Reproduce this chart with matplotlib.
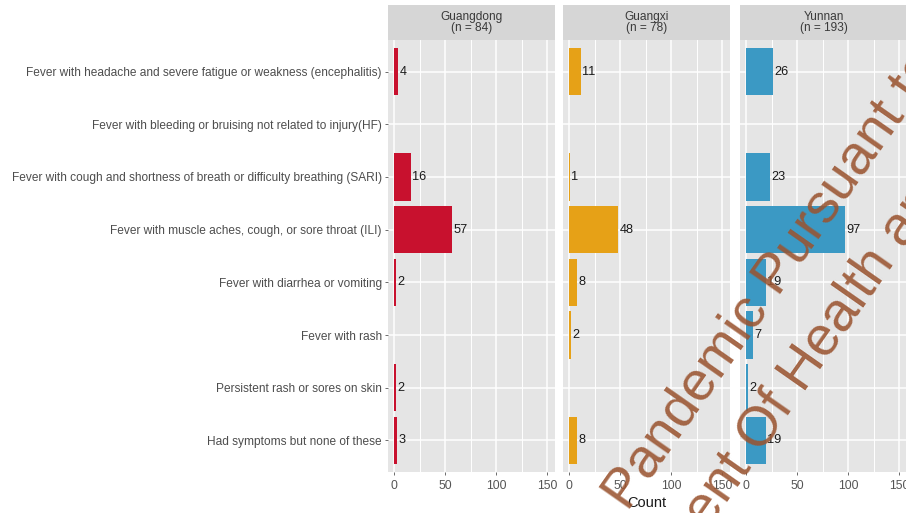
import matplotlib.pyplot as plt
import numpy as np

plt.rcParams['font.family'] = ['Liberation Sans', 'DejaVu Sans']

# symptom categories, top to bottom
symptoms = [
    "Fever with headache and severe fatigue or weakness (encephalitis)",
    "Fever with bleeding or bruising not related to injury(HF)",
    "Fever with cough and shortness of breath or difficulty breathing (SARI)",
    "Fever with muscle aches, cough, or sore throat (ILI)",
    "Fever with diarrhea or vomiting",
    "Fever with rash",
    "Persistent rash or sores on skin",
    "Had symptoms but none of these",
]

provinces = ["Guangdong", "Guangxi", "Yunnan"]
n_resp = [84, 78, 193]

guangdong = [4, 0, 16, 57, 2, 0, 2, 3]
guangxi = [11, 0, 1, 48, 8, 2, 0, 8]
yunnan = [26, 0, 23, 97, 19, 7, 2, 19]

colors = ["#C8112E", "#E6A117", "#3B99C4"]
x_ticks = [0, 50, 100, 150]

W, H = 906, 513
fig = plt.figure(figsize=(W / 100, H / 100), dpi=100)

panel_left = [388, 563, 740]
panel_w = 167
panel_top, panel_bot = 40, 472
strip_top = 5

counts = [guangdong, guangxi, yunnan]
ypos = np.arange(1, len(symptoms) + 1)

for i, (prov, n, vals, col) in enumerate(zip(provinces, n_resp, counts, colors)):
    ax = fig.add_axes([panel_left[i] / W, 1 - panel_bot / H,
                       panel_w / W, (panel_bot - panel_top) / H])
    ax.set_facecolor("#E5E5E5")
    ax.set_xlim(-6.2, 157.5)
    ax.set_ylim(len(symptoms) + 0.6, 0.4)
    ax.set_xticks(x_ticks)
    ax.set_xticks([25, 75, 125], minor=True)
    ax.set_yticks(ypos)
    ax.grid(True, which="major", color="white", lw=1.1)
    ax.grid(True, which="minor", axis="x", color="white", lw=0.7)
    ax.set_axisbelow(True)
    for s in ax.spines.values():
        s.set_visible(False)

    vals = np.array(vals)
    shown = vals > 0
    ax.barh(ypos[shown], vals[shown], height=0.9, color=col)
    for y, v in zip(ypos[shown], vals[shown]):
        ax.annotate(str(v), (v, y), xytext=(0.8, 0), textcoords="offset points",
                    ha="left", va="center", fontsize=9.2, color="#1A1A1A")

    ax.tick_params(axis="x", which="major", length=2.5, width=0.6,
                   color="#555555", labelsize=8.8, labelcolor="#555555", pad=3.5)
    ax.tick_params(axis="x", which="minor", length=0)
    if i == 0:
        ax.set_yticklabels(symptoms)
        ax.tick_params(axis="y", length=2.5, width=0.6, color="#555555",
                       labelsize=8.6, labelcolor="#4D4D4D", pad=2)
    else:
        ax.tick_params(axis="y", length=0, labelleft=False)

    # facet strip
    sx = fig.add_axes([panel_left[i] / W, 1 - panel_top / H,
                       panel_w / W, (panel_top - strip_top) / H])
    sx.set_facecolor("#D6D6D6")
    sx.set_xticks([])
    sx.set_yticks([])
    for s in sx.spines.values():
        s.set_visible(False)
    sx.text(0.5, 0.5, f"{prov}\n(n = {n})", ha="center", va="center",
            fontsize=8.6, color="#3A3A3A", linespacing=0.95,
            transform=sx.transAxes)

fig.text(647 / W, 1 - 503 / H, "Count", ha="center", va="center",
         fontsize=10.5, color="#1A1A1A")

# diagonal watermark across the right panels
wm = dict(rotation=55, rotation_mode="anchor", ha="left", va="baseline",
          fontsize=40, color="#9A5430", alpha=0.88, zorder=10)
fig.text(628 / W, 1 - 512 / H, "Pandemic Pursuant to", **wm)
fig.text(708 / W, 1 - 530 / H, "ent Of Health an", **wm)

fig.savefig("out.png", dpi=100)
